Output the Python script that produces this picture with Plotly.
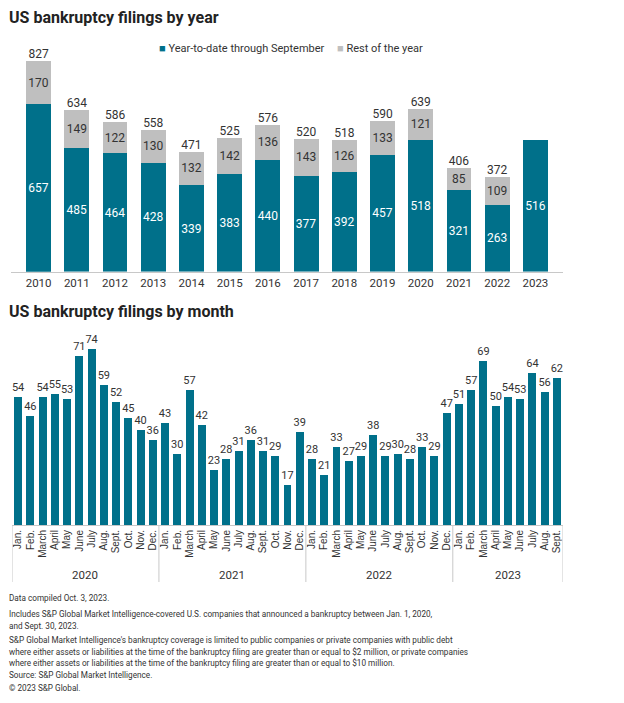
import plotly.graph_objects as go

years = [str(y) for y in range(2010, 2024)]
ytd = [657, 485, 464, 428, 339, 383, 440, 377, 392, 457, 518, 321, 263, 516]
rest = [170, 149, 122, 130, 132, 142, 136, 143, 126, 133, 121, 85, 109, None]
totals = [827, 634, 586, 558, 471, 525, 576, 520, 518, 590, 639, 406, 372, None]

month_names = ["Jan.", "Feb.", "March", "April", "May", "June", "July",
               "Aug.", "Sept.", "Oct.", "Nov.", "Dec."]
month_years = ["2020", "2021", "2022", "2023"]
monthly = [54, 46, 54, 55, 53, 71, 74, 59, 52, 45, 40, 36,
           43, 30, 57, 42, 23, 28, 31, 36, 31, 29, 17, 39,
           28, 21, 33, 27, 29, 38, 29, 30, 28, 33, 29, 47,
           51, 57, 69, 50, 54, 53, 64, 56, 62]

TEAL = "#00708a"
GRAY = "#bfbfbf"
DARK = "#333333"
FONT = "Roboto"
W, H = 624, 703

def py(px):
    return 1 - px / H

month_labels = [month_names[i % 12] for i in range(len(monthly))]
mx = list(range(len(monthly)))

fig = go.Figure()

fig.add_trace(go.Bar(
    x=years, y=ytd, marker=dict(color=TEAL, line=dict(width=0)),
    text=[str(v) for v in ytd], textposition="inside", insidetextanchor="middle",
    textangle=0,
    textfont=dict(color="white", size=12, family=FONT), constraintext="none",
    xaxis="x", yaxis="y", showlegend=False, hoverinfo="skip"))
fig.add_trace(go.Bar(
    x=years, y=rest, marker=dict(color=GRAY, line=dict(width=0)),
    text=[("" if v is None else str(v)) for v in rest], textposition="inside",
    insidetextanchor="middle", textangle=0,
    textfont=dict(color=DARK, size=12, family=FONT), constraintext="none",
    xaxis="x", yaxis="y", showlegend=False, hoverinfo="skip"))
fig.add_trace(go.Scatter(
    x=years, y=totals, mode="text",
    text=[("" if v is None else str(v)) for v in totals],
    textposition="top center", textfont=dict(color=DARK, size=12, family=FONT),
    xaxis="x", yaxis="y", showlegend=False, hoverinfo="skip", cliponaxis=False))

fig.add_trace(go.Bar(
    x=mx, y=monthly, marker=dict(color=TEAL, line=dict(width=0)),
    text=[str(v) for v in monthly], textposition="outside", textangle=0,
    textfont=dict(color=DARK, size=11, family=FONT), constraintext="none",
    cliponaxis=False, xaxis="x2", yaxis="y2", showlegend=False, hoverinfo="skip"))

fig.update_layout(
    width=W, height=H, margin=dict(l=0, r=0, t=0, b=0),
    paper_bgcolor="white", plot_bgcolor="white",
    barmode="stack", bargap=0.35,
    font=dict(family=FONT, color=DARK),
    xaxis=dict(domain=[11 / W, 563 / W], type="category", showgrid=False,
               showline=True, linecolor="#c8c8c8", linewidth=1, ticks="",
               tickfont=dict(size=11.5, family=FONT, color=DARK), anchor="y",
               fixedrange=True),
    yaxis=dict(domain=[py(271.7), py(50)], range=[0, 870], visible=False,
               anchor="x"),
    xaxis2=dict(domain=[12 / W, 563 / W], range=[-0.5, len(monthly) - 0.5],
                tickmode="array", tickvals=mx, ticktext=month_labels,
                tickangle=-90, showgrid=False, showline=True,
                linecolor="#c8c8c8", linewidth=1, ticks="",
                tickfont=dict(size=10, family="Liberation Sans", color=DARK),
                anchor="y2", zeroline=False),
    yaxis2=dict(domain=[py(525), py(335)], range=[0, 80], visible=False,
                anchor="x2"),
)

ann = []
ann.append(dict(text="<b>US bankruptcy filings by year</b>", x=7 / W, y=py(18),
                xref="paper", yref="paper", xanchor="left", yanchor="middle",
                showarrow=False, font=dict(size=16, family=FONT, color="#222")))
ann.append(dict(text="<b>US bankruptcy filings by month</b>", x=7 / W, y=py(311),
                xref="paper", yref="paper", xanchor="left", yanchor="middle",
                showarrow=False, font=dict(size=16, family=FONT, color="#222")))
ann.append(dict(text=f'<span style="color:{TEAL}">■</span> Year-to-date through September',
                x=157 / W, y=py(48), xref="paper", yref="paper", xanchor="left",
                yanchor="middle", showarrow=False,
                font=dict(size=11, family=FONT, color=DARK)))
ann.append(dict(text=f'<span style="color:{GRAY}">■</span> Rest of the year',
                x=335 / W, y=py(48), xref="paper", yref="paper", xanchor="left",
                yanchor="middle", showarrow=False,
                font=dict(size=11, family=FONT, color=DARK)))

# year group labels and separators for the monthly chart
shapes = []
bounds = [-0.5]
start = 0
for i, yr in enumerate(month_years):
    n = min(12, len(monthly) - start)
    end = start + n - 0.5
    ann.append(dict(text=yr, x=(start - 0.5 + end) / 2, y=py(575), xref="x2",
                    yref="paper", xanchor="center", yanchor="middle",
                    showarrow=False, font=dict(size=11.5, family=FONT, color=DARK)))
    bounds.append(end)
    start += n
for b in bounds:
    shapes.append(dict(type="line", xref="x2", yref="paper", x0=b, x1=b,
                       y0=py(525), y1=py(582), line=dict(color="#c8c8c8", width=1)))

foot = [
    (598, "Data compiled Oct. 3, 2023."),
    (614, "Includes S&P Global Market Intelligence-covered U.S. companies that announced a bankruptcy between Jan. 1, 2020,"),
    (626, "and Sept. 30, 2023."),
    (640, "S&P Global Market Intelligence's bankruptcy coverage is limited to public companies or private companies with public debt"),
    (652, "where either assets or liabilities at the time of the bankruptcy filing are greater than or equal to $2 million, or private companies"),
    (663, "where either assets or liabilities at the time of the bankruptcy filing are greater than or equal to $10 million."),
    (675, "Source: S&P Global Market Intelligence."),
    (688, "© 2023 S&P Global."),
]
for ypx, t in foot:
    ann.append(dict(text=t, x=7 / W, y=py(ypx), xref="paper", yref="paper",
                    xanchor="left", yanchor="middle", showarrow=False,
                    font=dict(size=8.2, family=FONT, color=DARK)))

fig.update_layout(annotations=ann, shapes=shapes)
fig.write_html("out.html", config={"displayModeBar": False},
               post_script="document.body.style.margin='0';document.body.style.overflow='hidden';")
